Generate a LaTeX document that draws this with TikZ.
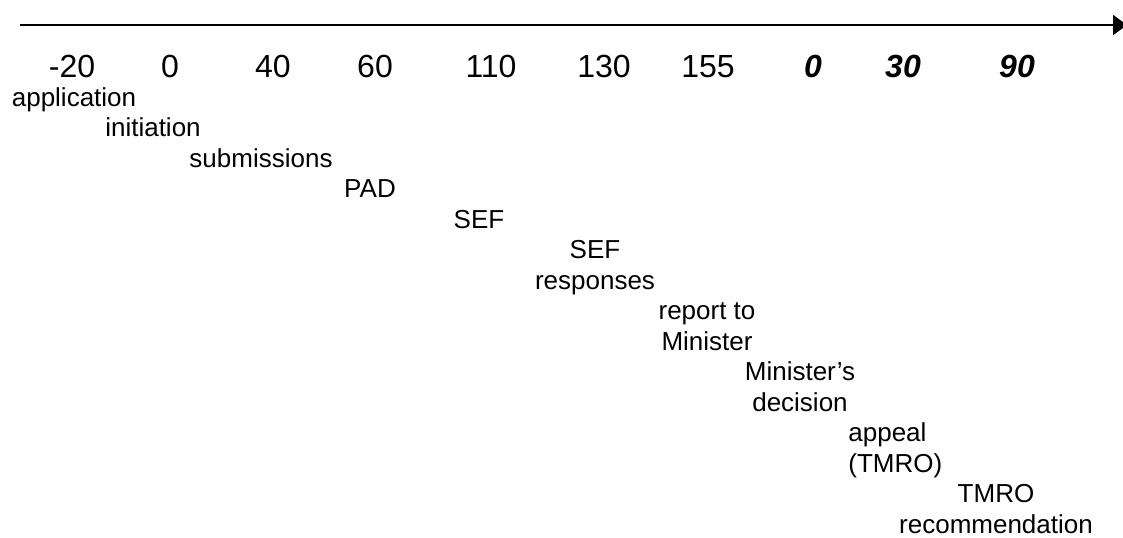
\documentclass[tikz,border=0pt]{standalone}
\usepackage{fontspec}
\setmainfont{Liberation Sans}
\usetikzlibrary{arrows.meta}
\tikzstyle{tick}=[anchor=base, inner sep=0pt, font=\fontsize{16}{19}\selectfont]
\tikzstyle{daytick}=[tick, font=\fontsize{16}{19}\selectfont\bfseries\itshape]
\tikzstyle{stage}=[anchor=base, inner sep=0pt, align=center, font=\fontsize{13}{15.3}\selectfont]
\tikzset{>={Triangle[length=7pt,width=10pt]}}

\begin{document}
\begin{tikzpicture}[x=0.5pt, y=-0.5pt]
\useasboundingbox (0,0) rectangle (1123,537);

\coordinate (start) at (20,25);
\coordinate (stop) at (1127,25);
\draw[line width=1pt, ->] (start) -- (stop);

% days
\node[tick] (dm20) at (72,77) {-20};
\node[tick] (d0) at (170,77) {0};
\node[tick] (d40) at (273,77) {40};
\node[tick] (d60) at (375,77) {60};
\node[tick] (d110) at (491,77) {110};
\node[tick] (d130) at (604,77) {130};
\node[tick] (d155) at (708,77) {155};
\node[daytick] (a0) at (813,77) {0};
\node[daytick] (a30) at (903,77) {30};
\node[daytick] (a90) at (1017,77) {90};

% stages (multi-line ones sit on their last line)
\node[stage] (application) at (74,106) {application};
\node[stage] (initiation) at (153,136.5) {initiation};
\node[stage] (submissions) at (261,167) {submissions};
\node[stage] (pad) at (370,197.5) {PAD};
\node[stage] (sef) at (479,228) {SEF};
\node[stage] (sefresp) at (595,289) {SEF\\responses};
\node[stage] (report) at (707,350) {report to\\Minister};
\node[stage] (decision) at (800,411) {Minister’s\\decision};
\node[stage, align=left, anchor=base west] (appeal) at (848,472) {appeal\\(TMRO)};
\node[stage] (tmro) at (996,533) {TMRO\\recommendation};

\end{tikzpicture}
\end{document}
